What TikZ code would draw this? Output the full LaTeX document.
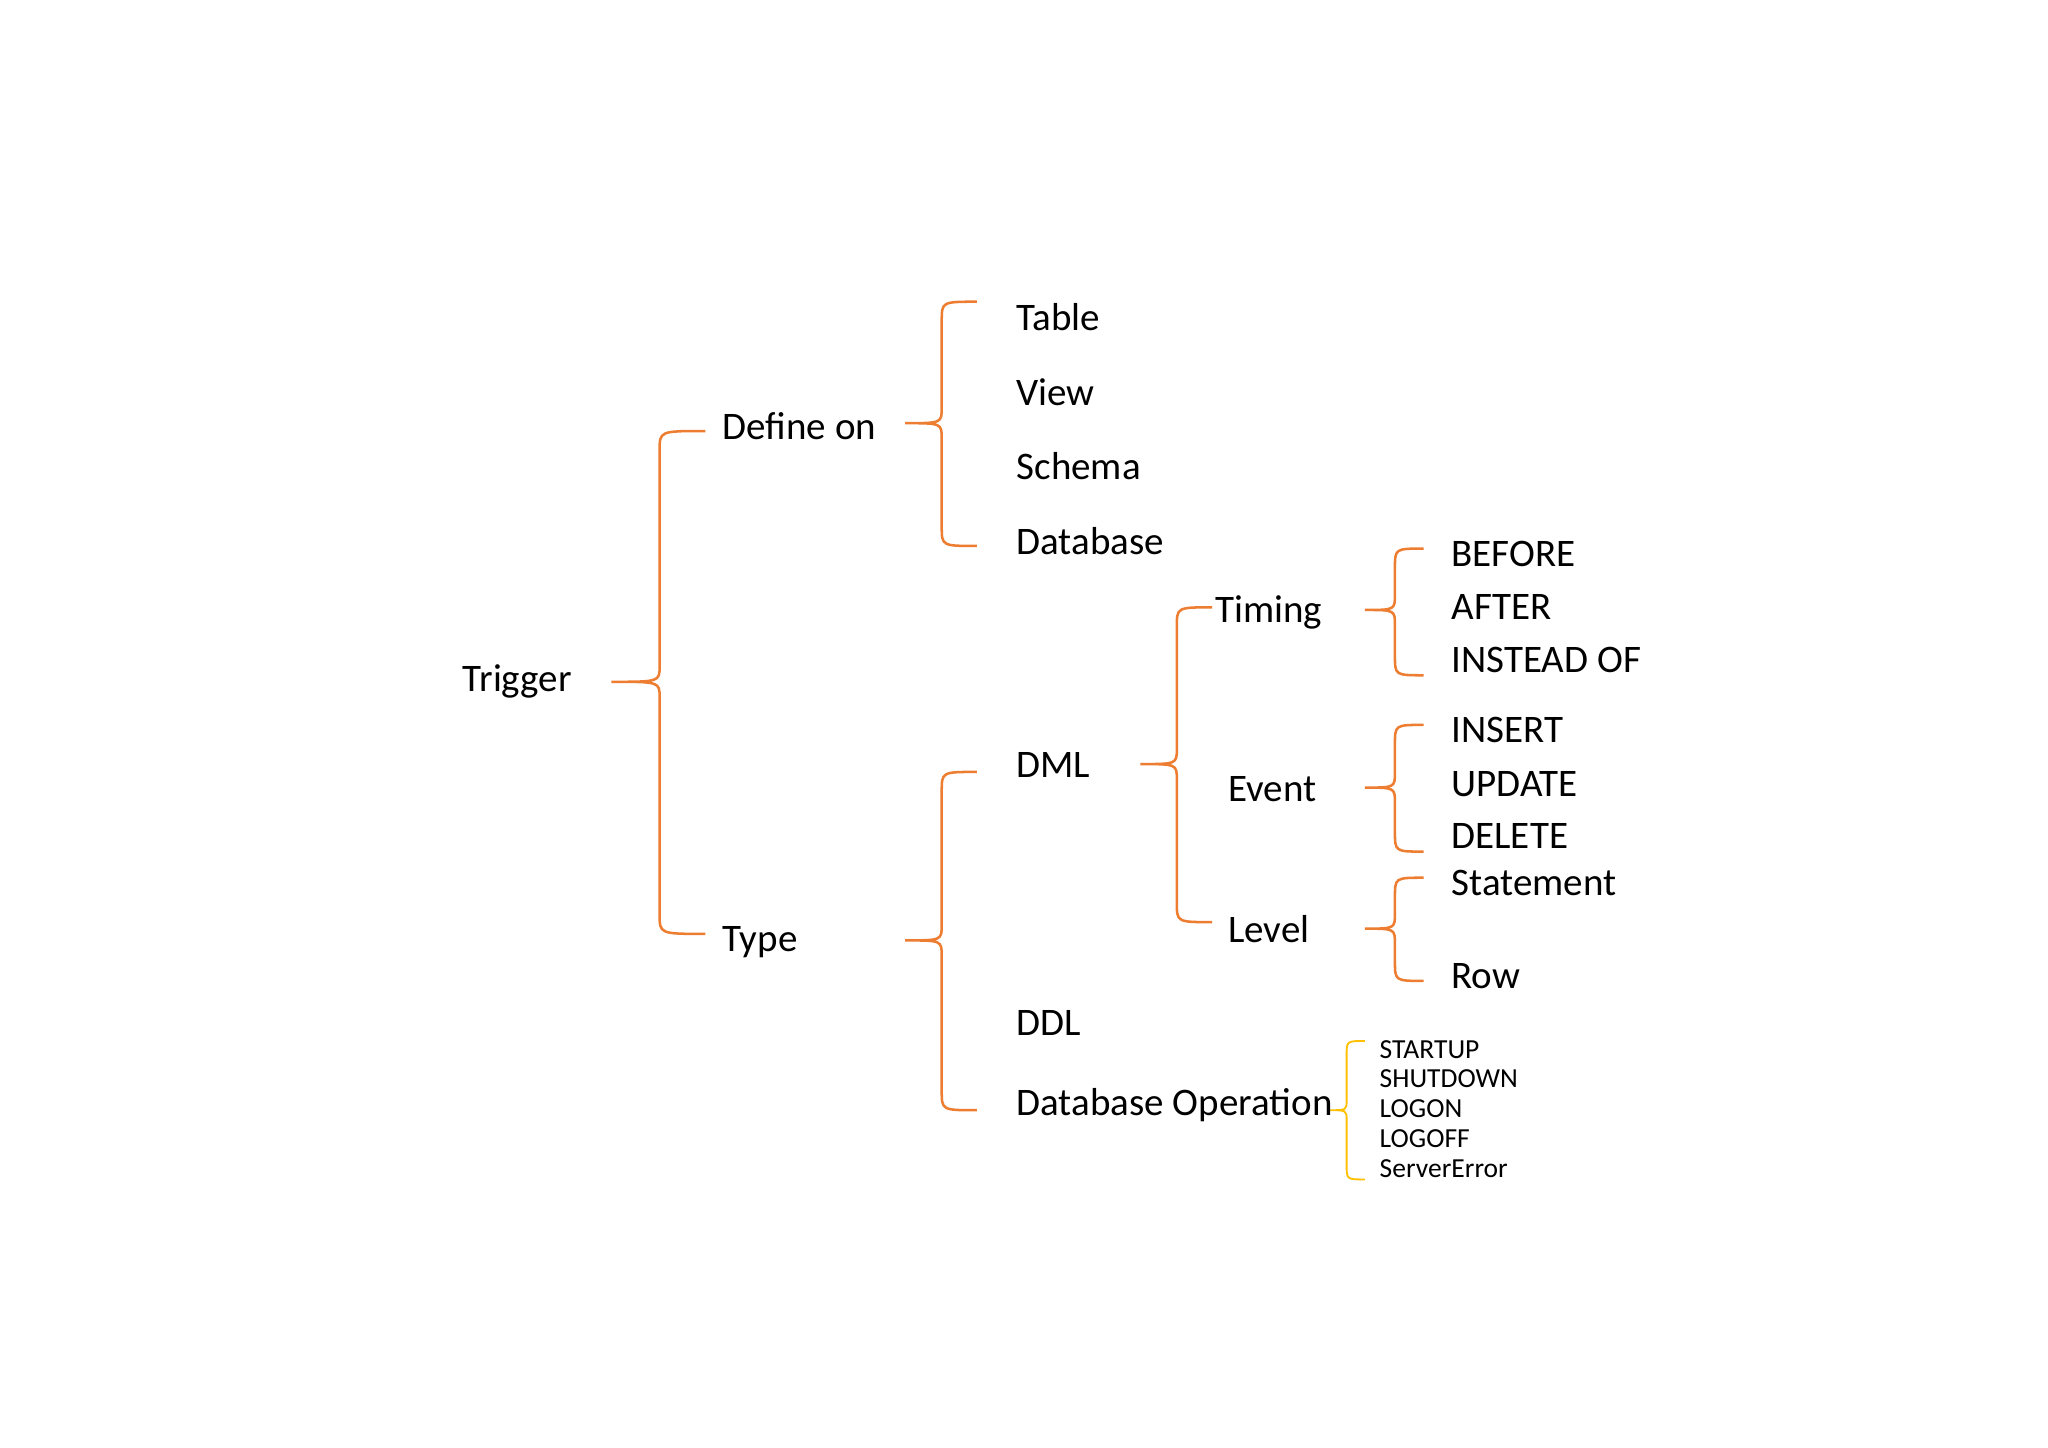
\documentclass[tikz,border=0pt]{standalone}
\usepackage{fontspec}
\setmainfont{Carlito}
\definecolor{org}{HTML}{ED7D31}
\definecolor{yel}{HTML}{FFC000}
\newcommand{\mybrace}[7]{%
\draw[#7,line width=1.1pt] (#3,#4) .. controls (#2,#4) .. (#2,#4+15) -- (#2,#5-12) .. controls (#2,#5) .. (#1,#5) .. controls (#2,#5) .. (#2,#5+12) -- (#2,#6-15) .. controls (#2,#6) .. (#3,#6);}
\begin{document}
\begin{tikzpicture}[x=0.02cm,y=-0.02cm,
 big/.style={anchor=west,font=\fontsize{17}{20}\selectfont,inner sep=0pt},
 small/.style={anchor=west,font=\fontsize{12}{14}\selectfont,inner sep=0pt}]
\useasboundingbox[fill=white] (0,0) rectangle (1568,1108);
\mybrace{468}{505}{540}{330}{522}{715}{org}
\mybrace{693}{721}{748}{231}{324}{418}{org}
\mybrace{693}{721}{748}{591}{720}{850}{org}
\mybrace{873}{901}{928}{465}{585}{706}{org}
\mybrace{1045}{1068}{1090}{420}{467}{517}{org}
\mybrace{1045}{1068}{1090}{555}{603}{652}{org}
\mybrace{1045}{1068}{1090}{672}{711}{751}{org}
\draw[yel,line width=0.8pt] (1045,797) .. controls (1031,797) .. (1031,808) -- (1031,842) .. controls (1031,850) .. (1018,850) .. controls (1031,850) .. (1031,858) -- (1031,892) .. controls (1031,903) .. (1045,903);
\node[big] (trig) at (354,522) {Trigger};
\node[big] (def) at (553,326) {Define on};
\node[big] (type) at (553,721) {Type};
\node[big] (tab) at (778,243) {Table};
\node[big] (view) at (778,300) {View};
\node[big] (sch) at (778,357) {Schema};
\node[big] (db) at (778,414) {Database};
\node[big] (tim) at (930,469) {Timing};
\node[big] (dml) at (778,586) {DML};
\node[big] (ev) at (940,604) {Event};
\node[big] (lev) at (940,711) {Level};
\node[big] (ddl) at (778,783) {DDL};
\node[big] (dbop) at (778,846) {Database Operation};
\node[big] (bef) at (1111,424) {BEFORE};
\node[big] (aft) at (1111,465) {AFTER};
\node[big] (ins) at (1111,505) {INSTEAD OF};
\node[big] (insert) at (1111,559) {INSERT};
\node[big] (upd) at (1111,600) {UPDATE};
\node[big] (del) at (1111,640) {DELETE};
\node[big] (stm) at (1111,676) {Statement};
\node[big] (row) at (1111,747) {Row};
\node[small] (s1) at (1056,804) {STARTUP};
\node[small] (s2) at (1056,826) {SHUTDOWN};
\node[small] (s3) at (1056,849) {LOGON};
\node[small] (s4) at (1056,872) {LOGOFF};
\node[small] (s5) at (1056,895) {ServerError};
\end{tikzpicture}
\end{document}
